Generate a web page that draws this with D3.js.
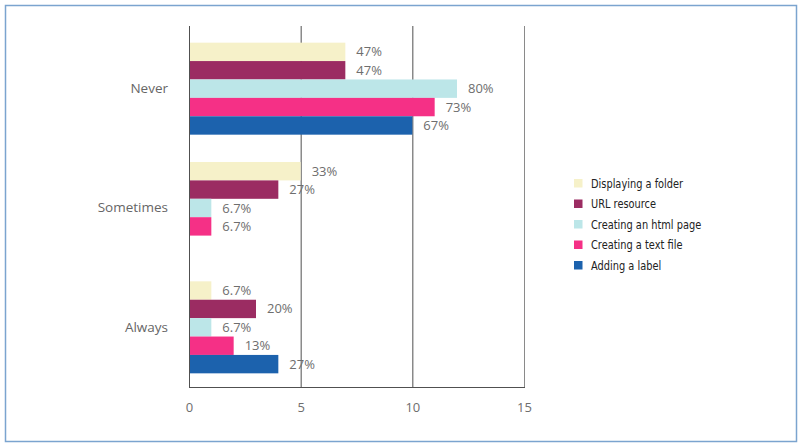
<!DOCTYPE html>
<html>
<head>
<meta charset="utf-8">
<script src="https://cdn.jsdelivr.net/npm/d3@7"></script>
<style>
  body { margin: 0; background: #fff; }
  svg text { font-family: "Open Sans", "Noto Sans", sans-serif; }
  .legend text { font-family: "Liberation Sans Narrow", "DejaVu Sans Condensed", "Liberation Sans", sans-serif; }
</style>
</head>
<body>
<div id="chart"></div>
<script>
const categories = ["Never", "Sometimes", "Always"];
const seriesNames = [
  "Displaying a folder",
  "URL resource",
  "Creating an html page",
  "Creating a text file",
  "Adding a label",
];
const seriesColors = ["#f6f1c9", "#9b2c62", "#bce6e8", "#f53086", "#1c62ad"];

// counts per category (Never, Sometimes, Always)
const displayingFolder = [7, 5, 1];
const urlResource = [7, 4, 3];
const htmlPage = [12, 1, 1];
const textFile = [11, 1, 2];
const addingLabel = [10, 0, 4];

const displayingFolderPct = ["47%", "33%", "6.7%"];
const urlResourcePct = ["47%", "27%", "20%"];
const htmlPagePct = ["80%", "6.7%", "6.7%"];
const textFilePct = ["73%", "6.7%", "13%"];
const addingLabelPct = ["67%", "", "27%"];

const xTicks = [0, 5, 10, 15];

const seriesValues = [displayingFolder, urlResource, htmlPage, textFile, addingLabel];
const seriesPct = [displayingFolderPct, urlResourcePct, htmlPagePct, textFilePct, addingLabelPct];

const width = 799;
const height = 444;

const svg = d3
  .select("#chart")
  .append("svg")
  .attr("width", width)
  .attr("height", height);

svg
  .append("rect")
  .attr("x", 5.5)
  .attr("y", 5.5)
  .attr("width", 791)
  .attr("height", 436)
  .attr("fill", "#fff")
  .attr("stroke", "#7ba4cf")
  .attr("stroke-width", 1.5);

const xScale = d3.scaleLinear().domain([0, 15]).range([189, 524]);
const yScale = d3.scaleBand().domain(categories).range([29, 387]);
const groupHeight = 92;
const y1 = d3.scaleBand().domain(seriesNames).range([0, groupHeight]);
const groupOffset = (yScale.bandwidth() - groupHeight) / 2;

// grid lines
svg
  .append("g")
  .selectAll("line")
  .data(xTicks)
  .enter()
  .append("line")
  .attr("x1", (d) => xScale(d) + 0.5)
  .attr("x2", (d) => xScale(d) + 0.5)
  .attr("y1", 26)
  .attr("y2", 387)
  .attr("stroke", (d) => (d === 15 ? "#8a8a8a" : "#505050"))
  .attr("stroke-width", 1);

svg
  .append("line")
  .attr("x1", xScale(0))
  .attr("x2", xScale(15) + 1)
  .attr("y1", 387.5)
  .attr("y2", 387.5)
  .attr("stroke", "#505050");

// x tick labels
const xAxis = d3.axisBottom(xScale).tickValues(xTicks).tickSize(0).tickPadding(16);
const xg = svg.append("g").attr("transform", "translate(0, 387)").call(xAxis);
xg.select(".domain").remove();
xg.selectAll("text")
  .attr("fill", "#6e6e6e")
  .style("font-size", "13px")
  .style("font-family", "'Open Sans', sans-serif");

// category labels
const yAxis = d3.axisLeft(yScale).tickSize(0).tickPadding(21);
const yg = svg.append("g").attr("transform", `translate(${xScale(0)}, 0)`).call(yAxis);
yg.select(".domain").remove();
yg.selectAll("text")
  .attr("fill", "#666")
  .style("font-size", "13.5px")
  .style("font-family", "'Open Sans', sans-serif");

// bars
const rows = [];
categories.forEach((cat, ci) => {
  seriesNames.forEach((s, si) => {
    rows.push({ cat, s, si, value: seriesValues[si][ci], pct: seriesPct[si][ci] });
  });
});

const bars = svg.append("g");
bars
  .selectAll("rect")
  .data(rows.filter((d) => d.value > 0))
  .enter()
  .append("rect")
  .attr("x", xScale(0) + 1)
  .attr("y", (d) => yScale(d.cat) + groupOffset + y1(d.s))
  .attr("width", (d) => xScale(d.value) - xScale(0) - 1)
  .attr("height", y1.bandwidth())
  .attr("fill", (d) => seriesColors[d.si]);

bars
  .selectAll("text")
  .data(rows.filter((d) => d.pct !== ""))
  .enter()
  .append("text")
  .attr("x", (d) => xScale(d.value) + 11)
  .attr("y", (d) => yScale(d.cat) + groupOffset + y1(d.s) + y1.bandwidth() / 2)
  .attr("dy", "0.35em")
  .attr("fill", "#6e6e6e")
  .style("font-size", "13px")
  .text((d) => d.pct);

// legend
const legend = svg.append("g").attr("class", "legend").attr("transform", "translate(574, 183)");
const legendRow = legend
  .selectAll("g")
  .data(seriesNames)
  .enter()
  .append("g")
  .attr("transform", (d, i) => `translate(0, ${i * 20.5})`);

legendRow
  .append("rect")
  .attr("x", 0)
  .attr("y", -4)
  .attr("width", 8.5)
  .attr("height", 8.5)
  .attr("fill", (d, i) => seriesColors[i]);

// condensed look: squeeze the text horizontally
legendRow
  .append("text")
  .attr("transform", "translate(17, 0) scale(0.84, 1)")
  .attr("dy", "0.35em")
  .attr("fill", "#222")
  .style("font-size", "13px")
  .text((d) => d);
</script>
</body>
</html>
